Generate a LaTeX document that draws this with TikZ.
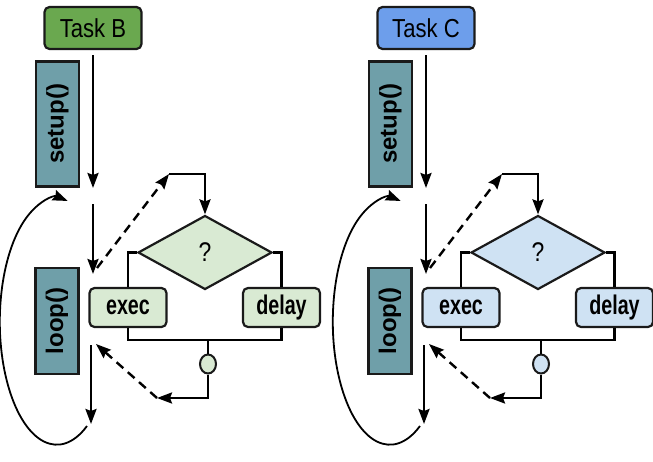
\documentclass[tikz,border=0pt]{standalone}
\usepackage{fontspec}
\setmainfont{Liberation Sans}
\newfontfamily\narrowsans[FakeStretch=0.85]{Liberation Sans}
\newfontfamily\condsans[FakeStretch=0.73]{Liberation Sans}
\usetikzlibrary{shapes.geometric,arrows.meta,positioning,calc}

\definecolor{taskgreen}{HTML}{6AA84F}
\definecolor{taskblue}{HTML}{6D9EEB}
\definecolor{callteal}{HTML}{6F9FA9}
\definecolor{palegreen}{HTML}{D9EAD3}
\definecolor{paleblue}{HTML}{CFE2F3}
\definecolor{edge}{HTML}{1A1A1A}

\tikzset{
  taskbox/.style={draw=edge, line width=2.2pt, rounded corners=5pt, minimum width=97, minimum height=42, inner sep=0pt, font=\narrowsans\fontsize{26}{28}\selectfont},
  callbox/.style={draw=edge, line width=2.2pt, fill=callteal, rotate=90, minimum width=125, minimum height=43, inner sep=0pt, font=\bfseries\fontsize{24}{26}\selectfont},
  decision/.style={diamond, draw=edge, line width=2.2pt, minimum width=134, minimum height=74, inner sep=0pt, font=\narrowsans\fontsize{27}{29}\selectfont},
  stepbox/.style={draw=edge, line width=2.2pt, rounded corners=5pt, minimum width=77, minimum height=39, inner sep=0pt, font=\condsans\bfseries\fontsize{27}{29}\selectfont},
  tap/.style={ellipse, draw=edge, line width=2pt, minimum width=16, minimum height=19, inner sep=0pt},
  wire/.style={line width=2.4pt},
  flow/.style={wire, -{Stealth[length=15pt,width=11pt,inset=2pt]}},
  dashflow/.style={flow, dash pattern=on 9pt off 6pt},
  thinflow/.style={line width=1.8pt, -{Stealth[length=15pt,width=11pt,inset=2pt]}}
}

\begin{document}
\begin{tikzpicture}[x=1pt, y=-1pt]
\useasboundingbox (0,0) rectangle (653,461);

% one panel per task
\foreach \xs/\tname/\tcol/\pcol in {0/B/taskgreen/palegreen, 333/C/taskblue/paleblue} {
\begin{scope}[xshift=\xs pt]
  \node[taskbox, fill=\tcol] (task\tname) at (93,28) {Task \tname};
  \node[callbox] (setup\tname) at (57.5,124) {setup()};
  \node[callbox, minimum width=106] (loop\tname) at (57,321) {loop()};
  \node[decision, fill=\pcol] (ask\tname) at (205,252.5) {?};
  \node[stepbox, fill=\pcol] (exec\tname) at (128,307.5) {exec};
  \node[stepbox, fill=\pcol] (delay\tname) at (281.5,307.5) {delay};
  \node[tap, fill=\pcol] (tap\tname) at (208,364) {};

  \coordinate (setin\tname) at (93,188);
  \coordinate (loopin\tname) at (93,204);
  \coordinate (looptop\tname) at (93,274);
  \coordinate (dashfrom\tname) at (97,268);
  \coordinate (dashto\tname) at (169,174);
  \coordinate (join\tname) at (208,340);
  \coordinate (ret\tname) at (157,398);
  \coordinate (retto\tname) at (96,344);
  \coordinate (loopout\tname) at (91,345);
  \coordinate (loopend\tname) at (91,424);
  \coordinate (wrap\tname) at (87,426);

  \draw[flow, shorten <=5pt] (task\tname.south) -- (setin\tname);
  \draw[flow] (loopin\tname) -- (looptop\tname);
  \draw[dashflow] (dashfrom\tname) -- (dashto\tname);
  \draw[flow] (dashto\tname) -| (ask\tname.north);
  \draw[wire] (ask\tname.west) -| (exec\tname.north);
  \draw[wire] (ask\tname.east) -| (delay\tname.north);
  \draw[wire] (exec\tname.south) |- (join\tname) -| (delay\tname.south);
  \draw[wire] (join\tname) -- (tap\tname.north);
  \draw[flow] (tap\tname.south) |- (ret\tname);
  \draw[dashflow] (ret\tname) -- (retto\tname);
  \draw[flow] (loopout\tname) -- (loopend\tname);
  \draw[thinflow] (wrap\tname) arc[start angle=58, end angle=281, x radius=57, y radius=123];
\end{scope}
}
\end{tikzpicture}
\end{document}
